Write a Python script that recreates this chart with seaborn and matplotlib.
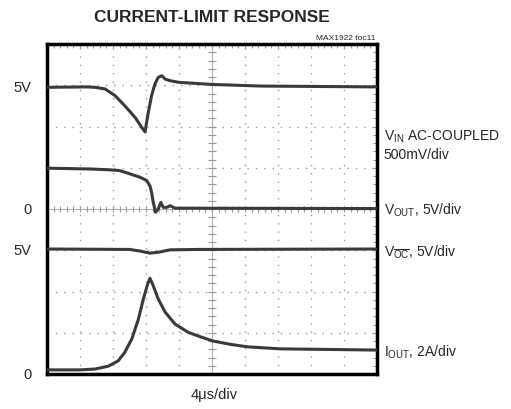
import numpy as np
import pandas as pd
import matplotlib
matplotlib.use("Agg")
import matplotlib.pyplot as plt
import seaborn as sns

# ----------------------------------------------------------
# Dati letti dalla schermata (unita: divisioni dell'oscilloscopio)
# ----------------------------------------------------------

vin_t = [0.0, 1.2, 1.45, 1.76, 2.06, 2.36, 2.67, 2.87, 2.97, 3.07, 3.17, 3.27,
         3.37, 3.48, 3.58, 3.73, 4.0, 5.0, 6.5, 10.0]
vin_v = [6.95, 6.96, 6.95, 6.91, 6.75, 6.50, 6.22, 5.98, 5.87, 6.34, 6.75, 7.03,
         7.19, 7.23, 7.15, 7.11, 7.07, 7.02, 6.98, 6.96]

vout_t = [0.0, 1.3, 1.9, 2.21, 2.52, 2.82, 3.02, 3.12, 3.17, 3.22, 3.29, 3.37,
          3.45, 3.52, 3.63, 3.73, 3.88, 10.0]
vout_v = [4.99, 4.97, 4.95, 4.93, 4.85, 4.77, 4.69, 4.56, 4.40, 4.16, 3.92, 4.00,
          4.16, 4.04, 4.04, 4.08, 4.02, 4.01]

voc_t = [0.0, 2.5, 2.82, 3.12, 3.36, 3.73, 4.64, 10.0]
voc_v = [3.03, 3.02, 2.98, 2.93, 2.95, 3.01, 3.02, 3.03]

iout_t = [0.0, 1.0, 1.45, 1.86, 2.16, 2.36, 2.57, 2.77, 2.92, 3.05, 3.12, 3.22,
          3.37, 3.58, 3.88, 4.28, 4.69, 5.03, 5.55, 6.06, 7.06, 10.0]
iout_v = [0.10, 0.10, 0.12, 0.19, 0.32, 0.53, 0.85, 1.33, 1.82, 2.18, 2.32, 2.14,
          1.82, 1.50, 1.21, 1.01, 0.89, 0.80, 0.72, 0.66, 0.61, 0.58]

left_labels = ["5V", "0", "5V", "0"]
left_levels = [6.95, 4.0, 3.0, 0.0]

right_labels = [r"V$_\mathregular{IN}$ AC-COUPLED", "500mV/div",
                r"V$_\mathregular{OUT}$, 5V/div",
                r"V$_{\overline{\mathregular{OC}}}$, 5V/div",
                r"I$_\mathregular{OUT}$, 2A/div"]
right_levels = [5.77, 5.33, 4.0, 2.98, 0.56]

# ----------------------------------------------------------
# Figura
# ----------------------------------------------------------

sns.set_style("white")
plt.rcParams['font.family'] = ['Liberation Sans Narrow', 'Liberation Sans', 'DejaVu Sans']
plt.rcParams['mathtext.fontset'] = 'custom'
plt.rcParams['mathtext.rm'] = 'Liberation Sans'

fig = plt.figure(figsize=(5.11, 4.10), dpi=100)
ax = fig.add_axes([47 / 511, 35 / 410, 330 / 511, 330 / 410])

traccia = "#3a3a3a"
for t, v in [(vin_t, vin_v), (vout_t, vout_v), (voc_t, voc_v), (iout_t, iout_v)]:
    sns.lineplot(x=t, y=v, ax=ax, color=traccia, linewidth=2.2, zorder=5)

ax.set_xlim(0, 10)
ax.set_ylim(0, 8)

# griglia puntinata
for gx in range(1, 10):
    if gx != 5:
        ax.axvline(gx, color="#9a9a9a", linewidth=1.0, linestyle=(0, (1, 5)), zorder=1)
for gy in range(1, 8):
    if gy != 4:
        ax.axhline(gy, color="#9a9a9a", linewidth=1.0, linestyle=(0, (1, 5)), zorder=1)

# assi centrali con tacche
ax.axvline(5, color="#b0b0b0", linewidth=0.8, zorder=1)
ax.axhline(4, color="#b0b0b0", linewidth=0.8, zorder=1)
tk = np.arange(0.2, 10, 0.2)
ax.vlines(tk, 3.93, 4.07, color="#9a9a9a", linewidth=0.8, zorder=1)
tk = np.arange(0.2, 8, 0.2)
ax.hlines(tk, 4.88, 5.12, color="#9a9a9a", linewidth=0.8, zorder=1)

# tacche sui bordi
ax.set_xticks(np.arange(0, 10.01, 0.2))
ax.set_yticks(np.arange(0, 8.01, 0.2))
ax.tick_params(direction="in", length=3, width=0.8, color="#9a9a9a",
               top=True, right=True, labelbottom=False, labelleft=False)
for s in ax.spines.values():
    s.set_color("black")
    s.set_linewidth(2.5)

# etichette
for lab, lv in zip(left_labels, left_levels):
    ax.text(-0.48, lv, lab, ha="right", va="center", fontsize=10.5, clip_on=False)
for lab, lv in zip(right_labels, right_levels):
    ax.text(10.21, lv, lab, ha="left", va="center", fontsize=10, clip_on=False)

fig.text(212 / 511, 1 - 18 / 410, "CURRENT-LIMIT RESPONSE", ha="center", va="center",
         fontsize=12.5, fontweight="heavy")
fig.text(376 / 511, 1 - 39 / 410, "MAX1922 toc11", ha="right", va="center", fontsize=6)
fig.text(214 / 511, 1 - 395 / 410, "4\u03bcs/div", ha="center", va="center", fontsize=10.5)

fig.savefig("out.png", dpi=100)
